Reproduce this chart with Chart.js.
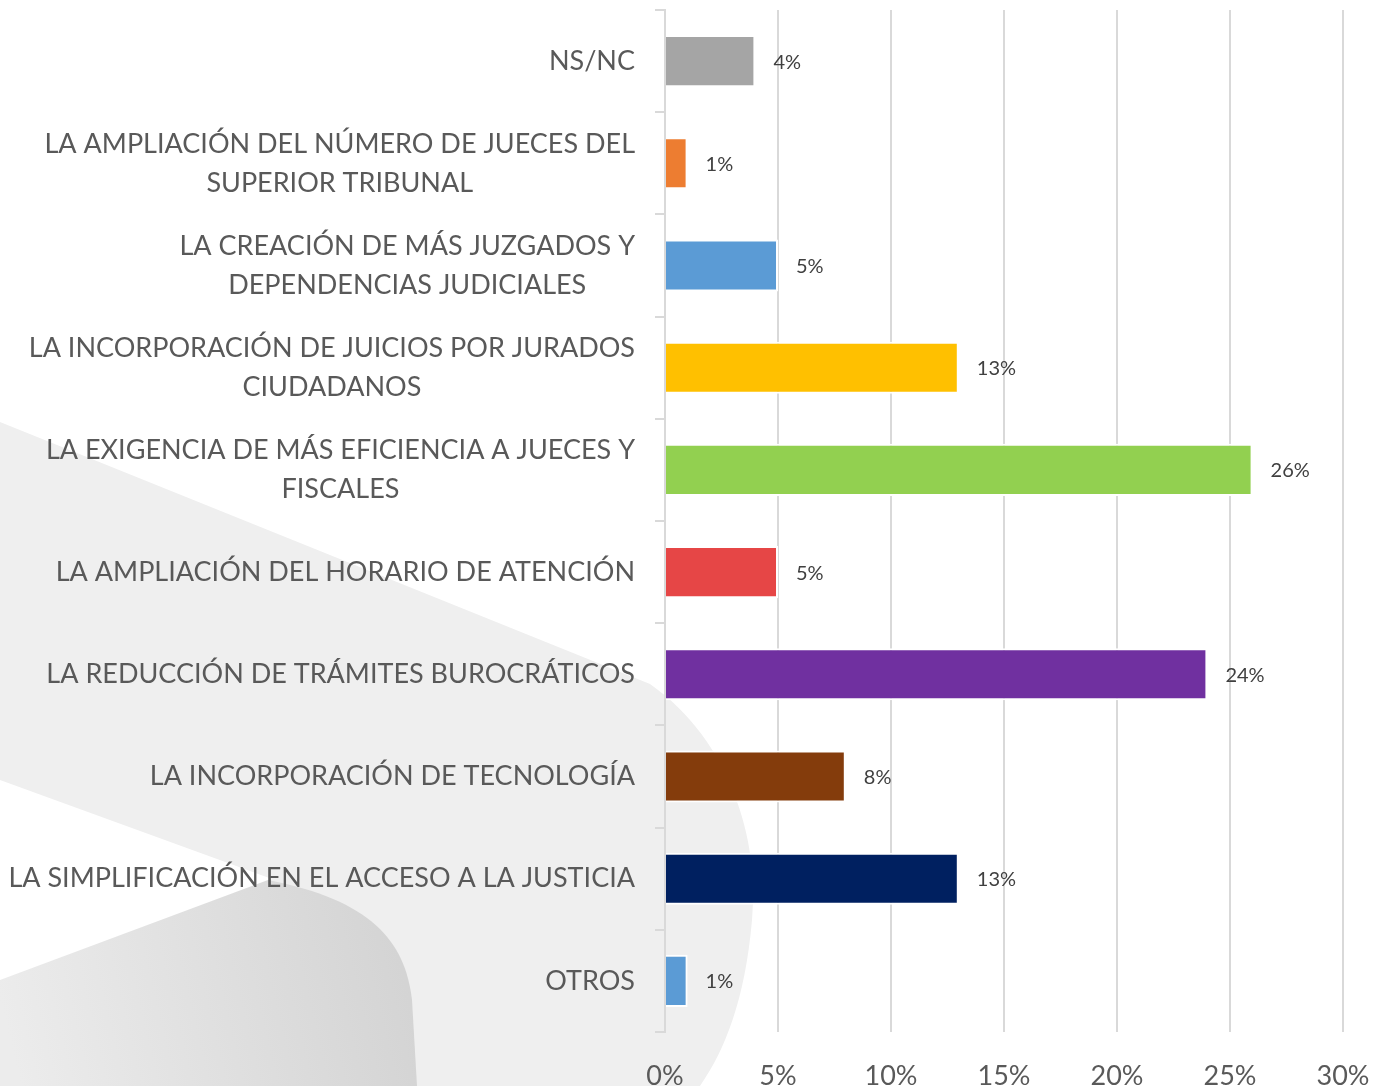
<!DOCTYPE html>
<html>
<head>
<meta charset="utf-8">
<script src="https://cdn.jsdelivr.net/npm/chart.js@4"></script>
<style>
  html, body { margin: 0; padding: 0; background: #fff; }
  #wrap { width: 1384px; height: 1086px; }
</style>
</head>
<body>
<div id="wrap"><canvas id="chart"></canvas></div>
<script>
const categories = [
  ['NS/NC'],
  ['LA AMPLIACIÓN DEL NÚMERO DE JUECES DEL', 'SUPERIOR TRIBUNAL'],
  ['LA CREACIÓN DE MÁS JUZGADOS Y', 'DEPENDENCIAS JUDICIALES'],
  ['LA INCORPORACIÓN DE JUICIOS POR JURADOS', 'CIUDADANOS'],
  ['LA EXIGENCIA DE MÁS EFICIENCIA A JUECES Y', 'FISCALES'],
  ['LA AMPLIACIÓN DEL HORARIO DE ATENCIÓN'],
  ['LA REDUCCIÓN DE TRÁMITES BUROCRÁTICOS'],
  ['LA INCORPORACIÓN DE TECNOLOGÍA'],
  ['LA SIMPLIFICACIÓN EN EL ACCESO A LA JUSTICIA'],
  ['OTROS']
];
const values = [4, 1, 5, 13, 26, 5, 24, 8, 13, 1];
const barColors = ['#a5a5a5', '#ed7d31', '#5b9bd5', '#ffc000', '#92d050',
                   '#e64646', '#7030a0', '#843c0c', '#002060', '#5b9bd5'];
const xTicks = [0, 5, 10, 15, 20, 25, 30];

const FONT = 'Lato, "Open Sans", sans-serif';

// grey watermark shapes behind the chart
const backdrop = {
  id: 'backdrop',
  beforeDraw(chart) {
    const c = chart.ctx;
    c.save();
    c.fillStyle = '#efefef';
    c.beginPath();
    c.moveTo(0, 422);
    c.lineTo(650, 684);
    c.bezierCurveTo(730, 740, 760, 840, 752, 920);
    c.bezierCurveTo(745, 1000, 725, 1050, 700, 1086);
    c.lineTo(0, 1086);
    c.closePath();
    c.fill();

    c.fillStyle = '#ffffff';
    c.beginPath();
    c.moveTo(0, 780);
    c.lineTo(272, 879);
    c.lineTo(0, 990);
    c.closePath();
    c.fill();

    const g = c.createLinearGradient(0, 1000, 420, 900);
    g.addColorStop(0, '#ececec');
    g.addColorStop(1, '#d2d2d2');
    c.fillStyle = g;
    c.beginPath();
    c.moveTo(0, 980);
    c.lineTo(268, 880);
    c.bezierCurveTo(370, 900, 405, 940, 412, 1000);
    c.lineTo(417, 1086);
    c.lineTo(0, 1086);
    c.closePath();
    c.fill();
    c.restore();
  }
};

// category labels: right edge at axis, extra lines centred under the first
const catLabels = {
  id: 'catLabels',
  afterDraw(chart) {
    const c = chart.ctx;
    const y = chart.scales.y;
    const right = y.right - 30;
    const lh = 39;
    c.save();
    c.font = '27px ' + FONT;
    c.fillStyle = '#595959';
    c.textAlign = 'center';
    c.textBaseline = 'middle';
    categories.forEach((lines, i) => {
      const cy = y.getPixelForTick(i);
      const w = Math.max(...lines.map(l => c.measureText(l).width));
      const cx = right - w / 2;
      const top = cy - (lines.length - 1) * lh / 2;
      lines.forEach((l, j) => c.fillText(l, cx, top + j * lh));
    });
    c.restore();
  }
};

// value labels beside each bar
const valueLabels = {
  id: 'valueLabels',
  afterDatasetsDraw(chart) {
    const c = chart.ctx;
    const meta = chart.getDatasetMeta(0);
    c.save();
    c.font = '20px ' + FONT;
    c.fillStyle = '#404040';
    c.textAlign = 'left';
    c.textBaseline = 'middle';
    meta.data.forEach((el, i) => {
      c.fillText(values[i] + '%', el.x + 18, el.y + 1);
    });
    c.restore();
  }
};

new Chart(document.getElementById('chart'), {
  type: 'bar',
  data: {
    labels: categories.map(l => l.join(' ')),
    datasets: [{
      data: values,
      backgroundColor: barColors,
      borderColor: '#ffffff',
      borderWidth: 2,
      borderSkipped: 'start',
      barPercentage: 0.51,
      categoryPercentage: 1
    }]
  },
  options: {
    indexAxis: 'y',
    responsive: true,
    maintainAspectRatio: false,
    animation: false,
    layout: { padding: { top: 10, right: 41, left: 0, bottom: 0 } },
    plugins: { legend: { display: false }, tooltip: { enabled: false } },
    scales: {
      x: {
        min: 0,
        max: 30,
        afterBuildTicks: s => { s.ticks = xTicks.map(v => ({ value: v })); },
        afterFit: s => { s.height = 54; s.paddingRight = 0; s.paddingLeft = 0; },
        grid: { color: '#d9d9d9', lineWidth: 2, drawTicks: false },
        border: { display: false },
        ticks: {
          padding: 28,
          maxRotation: 0,
          color: '#595959',
          font: { family: FONT, size: 27 },
          callback: v => v + '%'
        }
      },
      y: {
        afterFit: s => { s.width = 665; },
        grid: { color: '#d9d9d9', lineWidth: 2, drawOnChartArea: false, tickLength: 10 },
        border: { display: true, color: '#d9d9d9', width: 2 },
        ticks: { display: false }
      }
    }
  },
  plugins: [backdrop, catLabels, valueLabels]
});
</script>
</body>
</html>
